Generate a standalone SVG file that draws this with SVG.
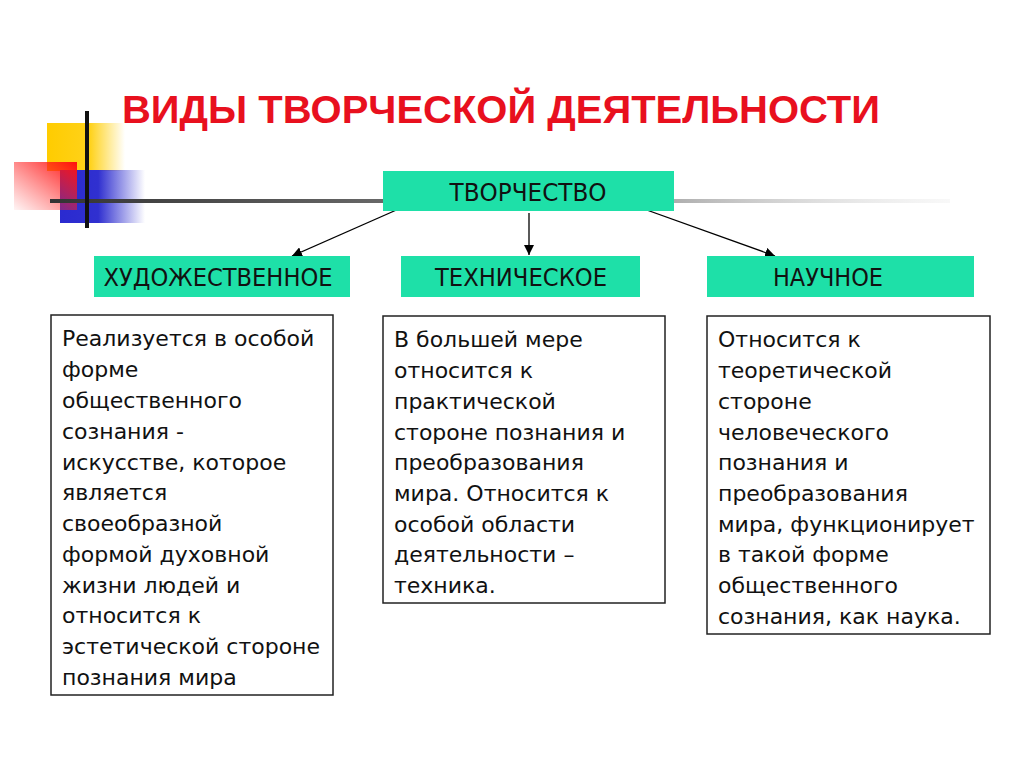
<svg xmlns="http://www.w3.org/2000/svg" width="1024" height="768" viewBox="0 0 1024 768">
<defs>
<linearGradient id="gy" x1="0" y1="0" x2="1" y2="0"><stop offset="0" stop-color="#ffcc00"/><stop offset="0.55" stop-color="#ffd21a"/><stop offset="1" stop-color="#ffd21a" stop-opacity="0"/></linearGradient>
<linearGradient id="gb" x1="0" y1="0" x2="1" y2="0"><stop offset="0" stop-color="#2a2ad0"/><stop offset="0.45" stop-color="#3030d0"/><stop offset="1" stop-color="#3030d0" stop-opacity="0"/></linearGradient>
<linearGradient id="gr" x1="1" y1="0" x2="0" y2="1"><stop offset="0" stop-color="#ff1010"/><stop offset="1" stop-color="#ff3030" stop-opacity="0.05"/></linearGradient>
<linearGradient id="gl" x1="0" y1="0" x2="1" y2="0"><stop offset="0" stop-color="#333"/><stop offset="0.6" stop-color="#888"/><stop offset="1" stop-color="#ddd" stop-opacity="0.2"/></linearGradient>
<marker id="ah" viewBox="0 0 10 10" refX="10" refY="5" markerWidth="10" markerHeight="10" markerUnits="userSpaceOnUse" orient="auto"><path d="M0,0 L10,5 L0,10 z" fill="#000"/></marker>
<style>
.hd{fill:#1ee0a8}
.ht{font-family:"DejaVu Sans","Noto Sans",sans-serif;font-size:24px;fill:#111;text-anchor:middle}
.bx{fill:#fff;stroke:#222;stroke-width:1.5}
.bt{font-family:"DejaVu Sans","Noto Sans",sans-serif;font-size:22px;fill:#111}
.cn{stroke:#000;stroke-width:1.3;fill:none;marker-end:url(#ah)}
</style>
</defs>
<rect width="1024" height="768" fill="#fff"/>
<g id="decor">
<rect x="47" y="123" width="78" height="48" fill="url(#gy)"/>
<rect x="60" y="170" width="85" height="53" fill="url(#gb)"/>
<rect x="14" y="162" width="63" height="48" fill="url(#gr)"/>
<rect x="50" y="199" width="900" height="4" fill="url(#gl)"/>
<rect x="85" y="111" width="4" height="117" fill="#111"/>
</g>
<text x="122" y="123" font-family="'Liberation Sans',Arial,sans-serif" font-weight="bold" font-size="38" fill="#e8101e" textLength="758" lengthAdjust="spacingAndGlyphs">ВИДЫ ТВОРЧЕСКОЙ ДЕЯТЕЛЬНОСТИ</text>
<g id="connectors">
<line class="cn" x1="410" y1="204" x2="292" y2="256"/>
<line class="cn" x1="529" y1="213" x2="529" y2="255"/>
<line class="cn" x1="630" y1="204" x2="775" y2="256"/>
</g>
<g id="tvorchestvo">
<rect class="hd" x="383" y="171" width="291" height="40"/>
<text class="ht" x="528" y="201" textLength="157" lengthAdjust="spacingAndGlyphs">ТВОРЧЕСТВО</text>
</g>
<g id="hudozh">
<rect class="hd" x="94" y="256" width="256" height="41"/>
<text class="ht" x="218" y="286" textLength="229" lengthAdjust="spacingAndGlyphs">ХУДОЖЕСТВЕННОЕ</text>
</g>
<g id="tehn">
<rect class="hd" x="401" y="256" width="239" height="41"/>
<text class="ht" x="521" y="286" textLength="172" lengthAdjust="spacingAndGlyphs">ТЕХНИЧЕСКОЕ</text>
</g>
<g id="nauch">
<rect class="hd" x="707" y="256" width="267" height="41"/>
<text class="ht" x="828" y="286" textLength="110" lengthAdjust="spacingAndGlyphs">НАУЧНОЕ</text>
</g>
<g id="desc-left">
<rect class="bx" x="51" y="315" width="282" height="380"/>
<text class="bt">
<tspan x="62" y="346">Реализуется в особой</tspan>
<tspan x="62" y="377">форме</tspan>
<tspan x="62" y="408">общественного</tspan>
<tspan x="62" y="439">сознания -</tspan>
<tspan x="62" y="470">искусстве, которое</tspan>
<tspan x="62" y="500">является</tspan>
<tspan x="62" y="531">своеобразной</tspan>
<tspan x="62" y="562">формой духовной</tspan>
<tspan x="62" y="593">жизни людей и</tspan>
<tspan x="62" y="623">относится к</tspan>
<tspan x="62" y="654">эстетической стороне</tspan>
<tspan x="62" y="685">познания мира</tspan>
</text>
</g>
<g id="desc-mid">
<rect class="bx" x="383" y="316" width="282" height="287"/>
<text class="bt">
<tspan x="394" y="347">В большей мере</tspan>
<tspan x="394" y="378">относится к</tspan>
<tspan x="394" y="409">практической</tspan>
<tspan x="394" y="440">стороне познания и</tspan>
<tspan x="394" y="470">преобразования</tspan>
<tspan x="394" y="501">мира. Относится к</tspan>
<tspan x="394" y="532">особой области</tspan>
<tspan x="394" y="562">деятельности –</tspan>
<tspan x="394" y="593">техника.</tspan>
</text>
</g>
<g id="desc-right">
<rect class="bx" x="707" y="316" width="283" height="318"/>
<text class="bt">
<tspan x="718" y="347">Относится к</tspan>
<tspan x="718" y="378">теоретической</tspan>
<tspan x="718" y="409">стороне</tspan>
<tspan x="718" y="440">человеческого</tspan>
<tspan x="718" y="470">познания и</tspan>
<tspan x="718" y="501">преобразования</tspan>
<tspan x="718" y="532">мира, функционирует</tspan>
<tspan x="718" y="562">в такой форме</tspan>
<tspan x="718" y="593">общественного</tspan>
<tspan x="718" y="624">сознания, как наука.</tspan>
</text>
</g>
</svg>
